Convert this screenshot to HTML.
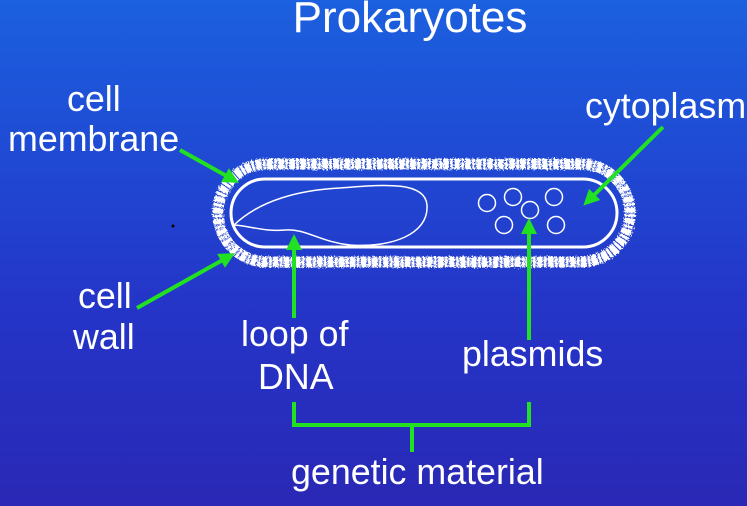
<!DOCTYPE html>
<html><head><style>
html,body{margin:0;padding:0}
body{width:747px;height:506px;overflow:hidden;background:linear-gradient(#1b60df,#2435c8 60%,#2a28b5);font-family:"Liberation Sans",sans-serif}
svg{display:block}
</style></head><body>
<svg width="747" height="506" viewBox="0 0 747 506" xmlns="http://www.w3.org/2000/svg">
<defs>
<filter id="rough" x="-10%" y="-20%" width="120%" height="140%"><feTurbulence type="fractalNoise" baseFrequency="0.7" numOctaves="2" result="n"/><feDisplacementMap in="SourceGraphic" in2="n" scale="5"/></filter>
<marker id="ah" markerWidth="16" markerHeight="16" refX="8" refY="8" orient="auto" markerUnits="userSpaceOnUse" viewBox="0 0 16 16"><path d="M0,0 L16,8 L0,16 Z" fill="#22e022"/></marker>
</defs>
<g font-size="35.8" fill="#fff">
<text x="410" y="32" text-anchor="middle" font-size="44">Prokaryotes</text>
<text x="67" y="111">cell</text>
<text x="8" y="151">membrane</text>
<text x="585" y="118">cytoplasm</text>
<text x="78" y="308">cell</text>
<text x="73" y="349">wall</text>
<text x="241" y="346">loop of</text>
<text x="258" y="389">DNA</text>
<text x="462" y="366">plasmids</text>
<text x="291" y="484">genetic material</text>
</g>
<rect x="218" y="164" width="412" height="98" rx="49" fill="none" stroke="#fff" stroke-width="11" stroke-dasharray="6 1 3 1" filter="url(#rough)"/>
<rect x="231" y="179" width="386" height="68" rx="34" fill="none" stroke="#fff" stroke-width="3"/>
<path d="M234,225 C260,200 300,190 340,188 C380,185 425,180 427,205 C429,235 390,248 350,245 C320,242 305,228 285,230 C265,232 250,226 234,225 Z" fill="none" stroke="#fff" stroke-width="1.5"/>
<g fill="none" stroke="#fff" stroke-width="1.5">
<circle cx="487" cy="203" r="8.5"/><circle cx="513" cy="197" r="8.5"/><circle cx="554" cy="197" r="8.5"/>
<circle cx="530" cy="210" r="8.5"/><circle cx="504" cy="225" r="8.5"/><circle cx="556" cy="225" r="8.5"/>
</g>
<g stroke="#22e022" stroke-width="4" fill="none">
<line x1="180" y1="150" x2="232" y2="179" marker-end="url(#ah)"/>
<line x1="137" y1="308" x2="228" y2="257" marker-end="url(#ah)"/>
<line x1="294" y1="318" x2="294" y2="242" marker-end="url(#ah)"/>
<line x1="529" y1="340" x2="529" y2="226" marker-end="url(#ah)"/>
<line x1="663" y1="127" x2="589" y2="200" marker-end="url(#ah)"/>
<polyline points="294,402 294,425 529,425 529,402"/>
<line x1="412" y1="425" x2="412" y2="452"/>
</g>
<circle cx="173" cy="226" r="1.5" fill="#000"/>
</svg>
</body></html>
